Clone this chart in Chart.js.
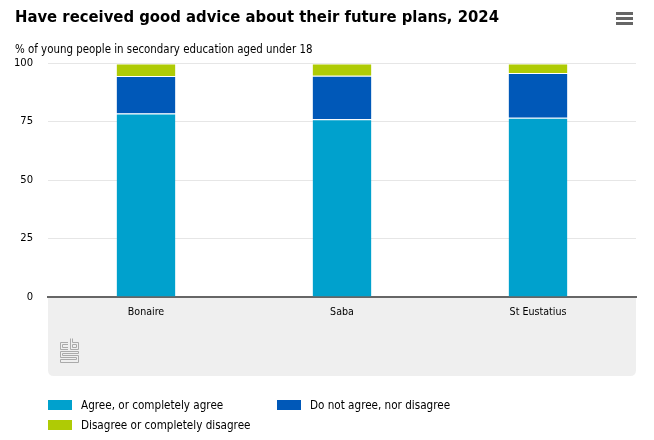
<!DOCTYPE html>
<html>
<head>
<meta charset="utf-8">
<script src="https://cdn.jsdelivr.net/npm/chart.js@4.4.1/dist/chart.umd.min.js"></script>
<style>
  html, body { margin: 0; padding: 0; background: #fff; }
  #wrap { position: relative; width: 654px; height: 440px; }
  #legend { position: absolute; left: 48px; top: 398px; width: 600px;
            font: 11.6px 'Liberation Sans Narrow', 'DejaVu Sans Condensed', sans-serif; color: #000; }
  .item { position: absolute; white-space: nowrap; }
  .item span.box { display: inline-block; width: 24px; height: 10px; vertical-align: -1px; margin-right: 9px; }
</style>
</head>
<body>
<div id="wrap">
  <canvas id="chart" width="654" height="440"></canvas>
  <div id="legend"></div>
</div>
<script>
// values (%)
var categories = ["Bonaire", "Saba", "St Eustatius"];
var agree = [78.6, 76.1, 76.8];
var neutral = [16.0, 18.6, 19.1];
var disagree = [5.4, 5.3, 4.1];
var yTicks = [0, 25, 50, 75, 100];

var seriesLabels = ["Agree, or completely agree", "Do not agree, nor disagree", "Disagree or completely disagree"];
var seriesColors = ["#00a1cd", "#0058b8", "#afcb05"];

var narrow = "'Liberation Sans Narrow', 'DejaVu Sans Condensed', sans-serif";

// grey band under the x axis, cbs logo and menu icon
var decor = {
    id: "decor",
    beforeDraw: function (chart) {
        var c = chart.ctx, a = chart.chartArea;
        var top = a.bottom, bottom = 376, l = a.left, r = a.right, rad = 6;
        c.save();
        c.fillStyle = "#efefef";
        c.beginPath();
        c.moveTo(l, top);
        c.lineTo(r, top);
        c.lineTo(r, bottom - rad);
        c.quadraticCurveTo(r, bottom, r - rad, bottom);
        c.lineTo(l + rad, bottom);
        c.quadraticCurveTo(l, bottom, l, bottom - rad);
        c.closePath();
        c.fill();

        // logo
        c.strokeStyle = "#aaaaaa";
        c.lineWidth = 1;
        var x = 60.5, y = 338.5;
        c.beginPath();
        // c
        c.moveTo(68, y + 4); c.lineTo(x, y + 4); c.lineTo(x, y + 11); c.lineTo(68, y + 11);
        c.moveTo(68, y + 6); c.lineTo(x + 2, y + 6); c.lineTo(x + 2, y + 9); c.lineTo(68, y + 9);
        // b
        c.moveTo(70.5, y); c.lineTo(70.5, y + 11); c.lineTo(78.5, y + 11); c.lineTo(78.5, y + 4); c.lineTo(72.5, y + 4); c.lineTo(72.5, y);
        c.moveTo(72.5, y + 6); c.lineTo(76.5, y + 6); c.lineTo(76.5, y + 9); c.lineTo(72.5, y + 9); c.closePath();
        // s
        c.moveTo(78.5, y + 13); c.lineTo(x, y + 13); c.lineTo(x, y + 19); c.lineTo(76.5, y + 19); c.lineTo(76.5, y + 21); c.lineTo(x, y + 21); c.lineTo(x, y + 24);
        c.lineTo(78.5, y + 24); c.lineTo(78.5, y + 17); c.lineTo(x + 2, y + 17); c.lineTo(x + 2, y + 15); c.lineTo(78.5, y + 15); c.closePath();
        c.stroke();

        // menu icon
        c.fillStyle = "#666666";
        [12, 17, 22].forEach(function (yy) { c.fillRect(616, yy, 17, 3); });
        c.restore();
    }
};

var ctx = document.getElementById("chart").getContext("2d");
var myChart = new Chart(ctx, {
    type: "bar",
    data: {
        labels: categories,
        datasets: [
            { label: seriesLabels[0], data: agree, backgroundColor: seriesColors[0] },
            { label: seriesLabels[1], data: neutral, backgroundColor: seriesColors[1] },
            { label: seriesLabels[2], data: disagree, backgroundColor: seriesColors[2] }
        ]
    },
    options: {
        responsive: false,
        animation: false,
        layout: { padding: { left: 15, right: 18, top: 0, bottom: 64 } },
        datasets: {
            bar: {
                categoryPercentage: 1,
                barPercentage: 0.3,
                borderColor: "#ffffff",
                borderWidth: { top: 1, left: 0, right: 0, bottom: 0 },
                borderSkipped: false
            }
        },
        plugins: {
            legend: { display: false },
            tooltip: { enabled: false },
            title: {
                display: true,
                text: "Have received good advice about their future plans, 2024",
                align: "start",
                color: "#000",
                font: { family: narrow, size: 16.5, weight: "bold", lineHeight: 1.2 },
                padding: { top: 8, bottom: 0 }
            },
            subtitle: {
                display: true,
                text: "% of young people in secondary education aged under 18",
                align: "start",
                color: "#000",
                font: { family: narrow, size: 11.4, lineHeight: 1.2 },
                padding: { top: 15.5, bottom: 6.5 }
            }
        },
        scales: {
            x: {
                stacked: true,
                grid: { display: false, drawTicks: false },
                border: { display: true, color: "#666666", width: 2 },
                ticks: { color: "#000", padding: 9, font: { family: narrow, size: 10.6 } },
                afterFit: function (s) { s.height = 79; }
            },
            y: {
                stacked: true,
                min: 0,
                max: 100,
                afterBuildTicks: function (s) { s.ticks = yTicks.map(function (v) { return { value: v }; }); },
                grid: { color: "#e6e6e6", lineWidth: 1, drawTicks: false },
                border: { display: false },
                ticks: { color: "#000", padding: 15, font: { family: "'DejaVu Sans', sans-serif", size: 10 } },
                afterFit: function (s) { s.width = 33; }
            }
        }
    },
    plugins: [decor]
});

// legend in two columns like the original
var legend = document.getElementById("legend");
var spots = [[0, 0], [229, 0], [0, 20]];
myChart.data.datasets.forEach(function (ds, i) {
    var d = document.createElement("div");
    d.className = "item";
    d.style.left = spots[i][0] + "px";
    d.style.top = spots[i][1] + "px";
    d.innerHTML = '<span class="box" style="background:' + ds.backgroundColor + '"></span>' + ds.label;
    legend.appendChild(d);
});
</script>
</body>
</html>
